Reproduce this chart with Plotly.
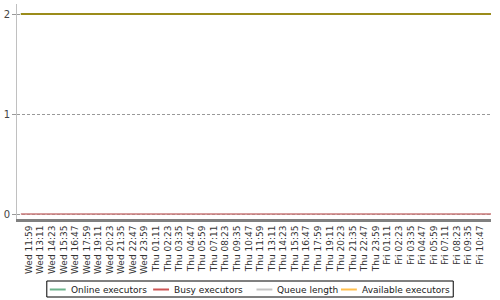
import plotly.graph_objects as go
from datetime import datetime

# ---------------- data ----------------
tick_labels = [
    "Wed 11:59", "Wed 13:11", "Wed 14:23", "Wed 15:35", "Wed 16:47", "Wed 17:59",
    "Wed 19:11", "Wed 20:23", "Wed 21:35", "Wed 22:47", "Wed 23:59",
    "Thu 01:11", "Thu 02:23", "Thu 03:35", "Thu 04:47", "Thu 05:59", "Thu 07:11",
    "Thu 08:23", "Thu 09:35", "Thu 10:47", "Thu 11:59", "Thu 13:11", "Thu 14:23",
    "Thu 15:35", "Thu 16:47", "Thu 17:59", "Thu 19:11", "Thu 20:23", "Thu 21:35",
    "Thu 22:47", "Thu 23:59",
    "Fri 01:11", "Fri 02:23", "Fri 03:35", "Fri 04:47", "Fri 05:59", "Fri 07:11",
    "Fri 08:23", "Fri 09:35", "Fri 10:47",
]
day_dates = {"Wed": "2024-05-01", "Thu": "2024-05-02", "Fri": "2024-05-03"}

sample_times = ["2024-05-01 11:09", "2024-05-03 11:55"]
online_executors = [2, 2]
busy_executors = [0, 0]
queue_length = [0, 0]
available_executors = [2, 2]

series_names = ["Online executors", "Busy executors", "Queue length", "Available executors"]
series_colors = ["#6db38c", "#cc5555", "#c4c4c4", "#ffbf4d"]

# ---------------- layout helpers ----------------
W, H = 500, 300
L, R, T, B = 14, 491, 4, 219  # plot area in pixels
def px(x):
    return (x - L) / (R - L)
def py(y):
    return (B - y) / (B - T)

tickvals = [datetime.strptime(day_dates[t.split()[0]] + " " + t.split()[1], "%Y-%m-%d %H:%M")
            for t in tick_labels]

fig = go.Figure()
font = "DejaVu Sans"

# draw order: queue, busy, online, available (overlap at 2 shows as olive)
fig.add_trace(go.Scatter(x=sample_times, y=queue_length, mode="lines",
                         line=dict(color=series_colors[2], width=1), showlegend=False,
                         hoverinfo="skip"))
fig.add_trace(go.Scatter(x=sample_times, y=busy_executors, mode="lines",
                         line=dict(color=series_colors[1], width=1), showlegend=False,
                         hoverinfo="skip"))
fig.add_trace(go.Scatter(x=sample_times, y=online_executors, mode="lines",
                         line=dict(color=series_colors[0], width=2), showlegend=False,
                         hoverinfo="skip"))
fig.add_trace(go.Scatter(x=sample_times, y=available_executors, mode="lines",
                         line=dict(color="#9b8c1a", width=2), showlegend=False,
                         hoverinfo="skip"))

# manual legend (compact, like the reference)
box = dict(x0=44, x1=453, y0=281, y1=297)
fig.add_shape(type="rect", xref="paper", yref="paper",
              x0=px(box["x0"]), x1=px(box["x1"]), y0=py(box["y1"]), y1=py(box["y0"]),
              line=dict(color="black", width=1), fillcolor="white", layer="above")
legend_line_x = [47, 151, 255, 340]
legend_y = 289.5
for name, col, lx in zip(series_names, series_colors, legend_line_x):
    fig.add_shape(type="line", xref="paper", yref="paper",
                  x0=px(lx), x1=px(lx + 16), y0=py(legend_y), y1=py(legend_y),
                  line=dict(color=col, width=2), layer="above")
    fig.add_annotation(xref="paper", yref="paper", x=px(lx + 20), y=py(legend_y),
                       text=name, showarrow=False, xanchor="left", yanchor="middle",
                       borderpad=0, font=dict(family=font, size=9, color="#222222"))

fig.update_layout(
    width=W, height=H,
    margin=dict(l=L, r=W - R, t=T, b=H - B, pad=0),
    paper_bgcolor="white", plot_bgcolor="white",
    showlegend=False,
    font=dict(family=font, size=9, color="#444444"),
    xaxis=dict(
        type="date",
        range=["2024-05-01 10:45", "2024-05-03 11:55"],
        tickmode="array", tickvals=tickvals, ticktext=tick_labels,
        tickangle=-90, tickfont=dict(family=font, size=9, color="#333333"),
        ticks="", showgrid=False, zeroline=False,
        showline=True, linecolor="#808080", linewidth=3,
        ticklabelstandoff=0,
    ),
    yaxis=dict(
        range=[-0.05, 2.10],
        tickvals=[0, 1, 2], ticktext=["0", "1", "2"],
        tickfont=dict(family=font, size=10, color="#444444"),
        ticks="outside", ticklen=4, tickcolor="#999999",
        showgrid=True, gridcolor="#999999", griddash="3px,2px", gridwidth=1,
        zeroline=False, showline=True, linecolor="#c0c0c0", linewidth=1,
    ),
)

fig.write_html("out.html")
